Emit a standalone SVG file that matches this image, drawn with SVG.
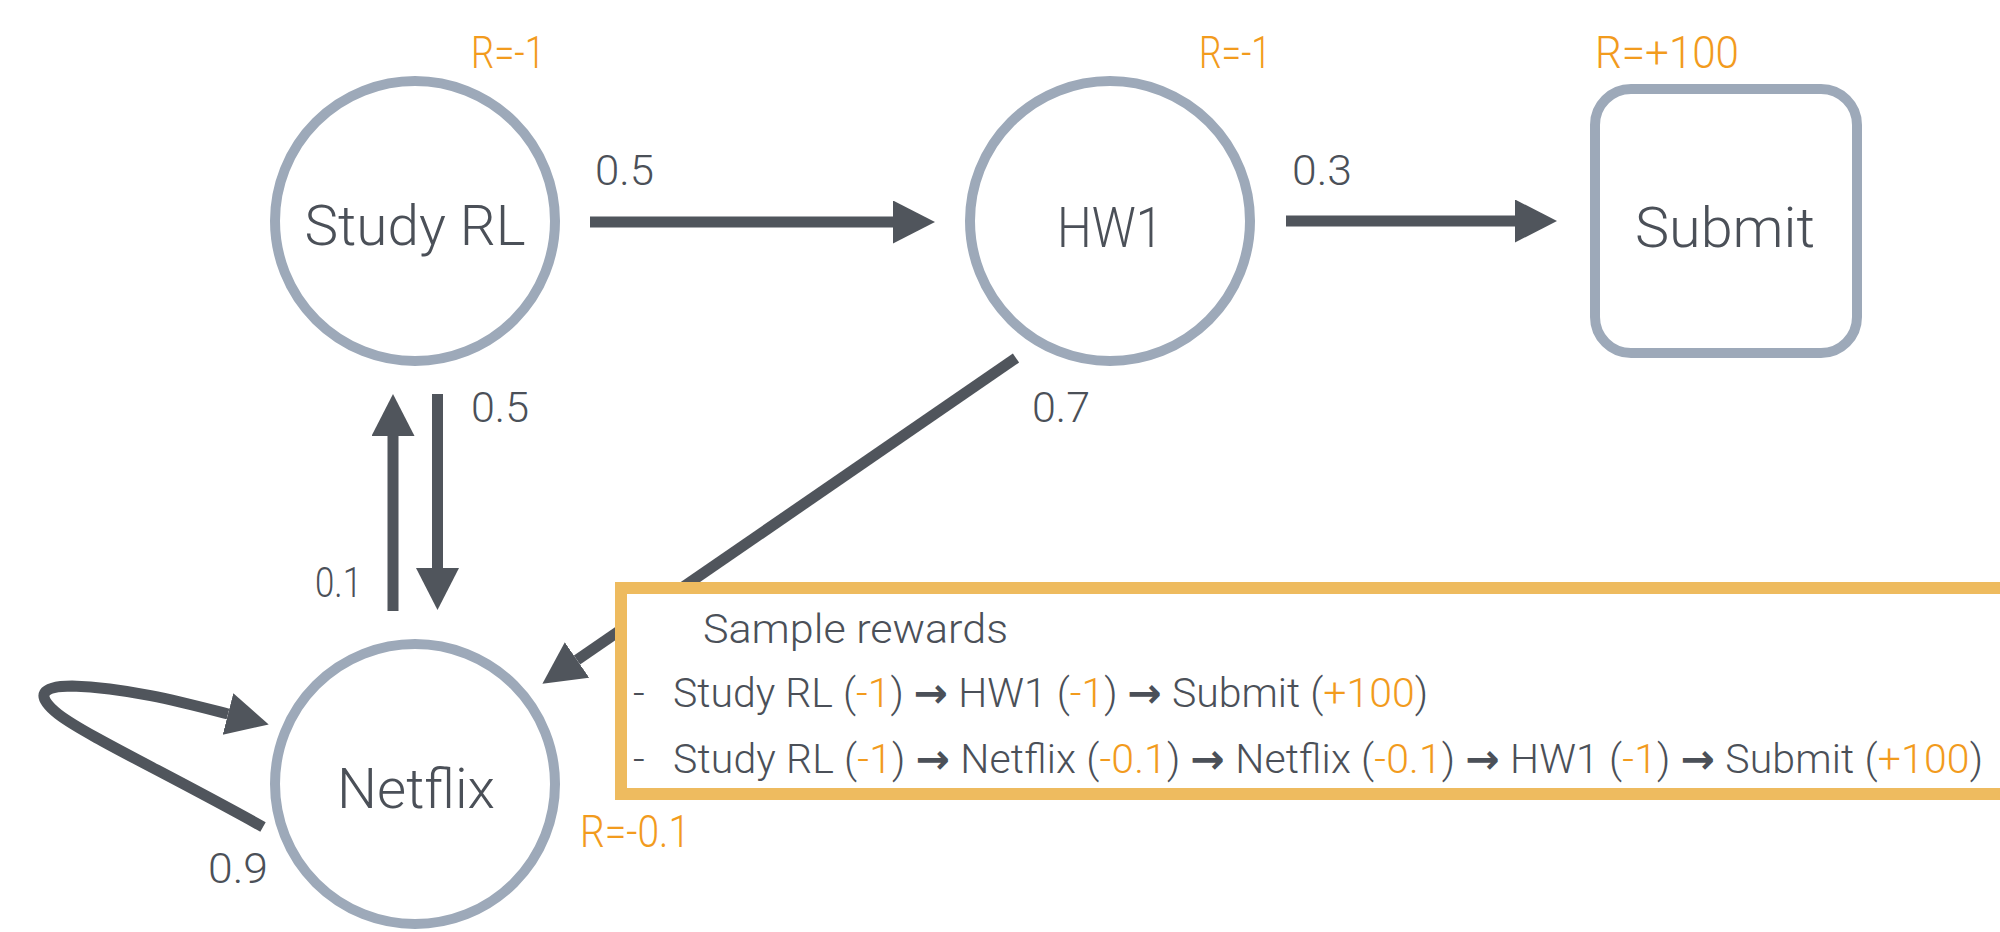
<svg xmlns="http://www.w3.org/2000/svg" width="2000" height="932" viewBox="0 0 2000 932">
<style>
.node{fill:#fff;stroke:#9DA9B9;stroke-width:10}
.lbl{font-family:Roboto,"Liberation Sans",sans-serif;font-weight:300;fill:#4B5058;text-anchor:middle}
.nl{font-size:55px}
.prob{font-family:Roboto,"Liberation Sans",sans-serif;font-weight:300;fill:#4B5058;font-size:43px}
.rew{font-family:Roboto,"Liberation Sans",sans-serif;font-weight:300;fill:#F29B1D;font-size:45px}
.conn{fill:none;stroke:#50555C;stroke-width:11}
.box{fill:#fff;stroke:#EEBB5F;stroke-width:12}
.bt{font-family:Roboto,"Liberation Sans",sans-serif;font-weight:300;fill:#4B5058;font-size:41px}
.o{fill:#F29B1D}
.ar{font-family:"DejaVu Sans",sans-serif;font-weight:bold;fill:#4B5058}
</style>
<defs>
<marker id="ah" markerUnits="userSpaceOnUse" markerWidth="44" markerHeight="44" refX="0" refY="21.5" orient="auto" viewBox="0 0 44 44">
<path d="M0,0 L42,21.5 L0,43 z" fill="#50555C"/>
</marker>
</defs>
<g id="connectors">
<path class="conn" d="M590,222 L893,222" marker-end="url(#ah)"/>
<path class="conn" d="M1286,221 L1515,221" marker-end="url(#ah)"/>
<path class="conn" d="M393,611 L393,436" marker-end="url(#ah)"/>
<path class="conn" d="M437.5,394 L437.5,568" marker-end="url(#ah)"/>
<path class="conn" d="M1016,358 L577,660" marker-end="url(#ah)"/>
<path class="conn" d="M263,827 C170,775 85,735 58,714 C34,695 42,686 72,686 C130,688 185,703 228,714" marker-end="url(#ah)"/>
</g>
<g id="node-study">
<circle class="node" cx="415" cy="221" r="140"/>
<text class="lbl nl" x="415" y="245" textLength="221" lengthAdjust="spacingAndGlyphs">Study RL</text>
<text class="rew" x="471" y="68" textLength="74" lengthAdjust="spacingAndGlyphs">R=-1</text>
</g>
<g id="node-hw1">
<circle class="node" cx="1110" cy="221" r="140"/>
<text class="lbl nl" x="1110" y="247" textLength="106" lengthAdjust="spacingAndGlyphs">HW1</text>
<text class="rew" x="1199" y="68" textLength="72" lengthAdjust="spacingAndGlyphs">R=-1</text>
</g>
<g id="node-submit">
<rect class="node" x="1595" y="89" width="262" height="264" rx="36"/>
<text class="lbl nl" x="1725" y="247" textLength="180" lengthAdjust="spacingAndGlyphs">Submit</text>
<text class="rew" x="1595" y="68" textLength="144" lengthAdjust="spacingAndGlyphs">R=+100</text>
</g>
<g id="node-netflix">
<circle class="node" cx="415" cy="784" r="140"/>
<text class="lbl nl" x="416" y="808" textLength="158" lengthAdjust="spacingAndGlyphs">Netflix</text>
<text class="rew" x="580" y="847" textLength="110" lengthAdjust="spacingAndGlyphs">R=-0.1</text>
</g>
<g id="labels">
<text class="prob" x="595" y="185" textLength="59" lengthAdjust="spacingAndGlyphs">0.5</text>
<text class="prob" x="1292" y="185" textLength="60" lengthAdjust="spacingAndGlyphs">0.3</text>
<text class="prob" x="471" y="422" textLength="58" lengthAdjust="spacingAndGlyphs">0.5</text>
<text class="prob" x="315" y="597" textLength="47" lengthAdjust="spacingAndGlyphs">0.1</text>
<text class="prob" x="1032" y="422" textLength="58" lengthAdjust="spacingAndGlyphs">0.7</text>
<text class="prob" x="208" y="883" textLength="60" lengthAdjust="spacingAndGlyphs">0.9</text>
</g>
<g id="sample-box">
<rect class="box" x="621" y="588" width="1500" height="206"/>
<text class="bt" x="703" y="643" textLength="305" lengthAdjust="spacingAndGlyphs">Sample rewards</text>
<text class="bt" x="633" y="707">-</text>
<text class="bt" x="673" y="707" textLength="755">Study RL (<tspan class="o">-1</tspan>) <tspan class="ar">→</tspan> HW1 (<tspan class="o">-1</tspan>) <tspan class="ar">→</tspan> Submit (<tspan class="o">+100</tspan>)</text>
<text class="bt" x="633" y="773">-</text>
<text class="bt" x="673" y="773" textLength="1310">Study RL (<tspan class="o">-1</tspan>) <tspan class="ar">→</tspan> Netflix (<tspan class="o">-0.1</tspan>) <tspan class="ar">→</tspan> Netflix (<tspan class="o">-0.1</tspan>) <tspan class="ar">→</tspan> HW1 (<tspan class="o">-1</tspan>) <tspan class="ar">→</tspan> Submit (<tspan class="o">+100</tspan>)</text>
</g>
</svg>
